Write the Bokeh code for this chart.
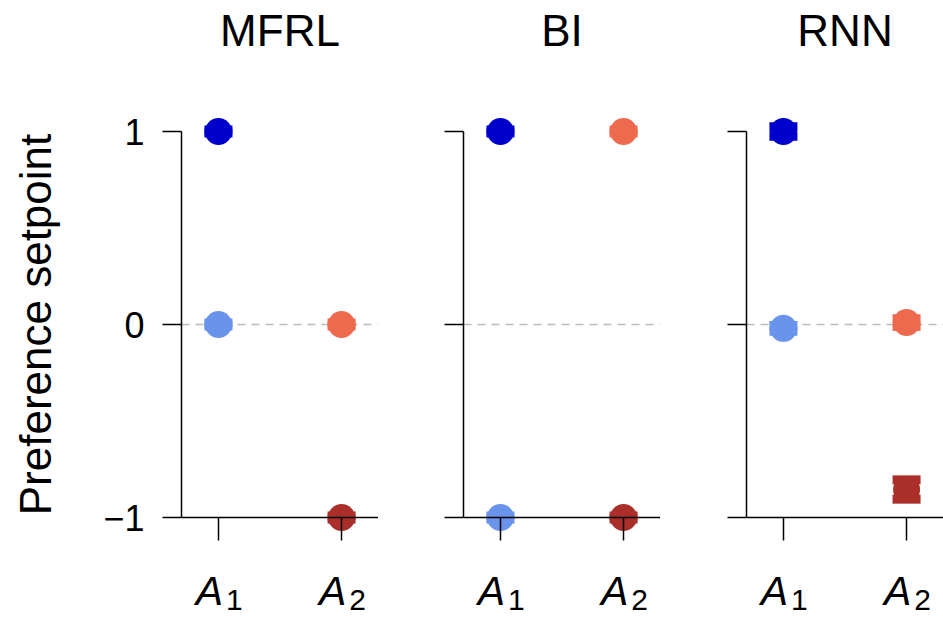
import numpy as np
from bokeh.plotting import figure
from bokeh.layouts import row
from bokeh.models import Range1d, FixedTicker, LinearAxis, Span
from bokeh.embed import file_html
from bokeh.resources import INLINE

# ---------------- data ----------------
models = ["MFRL", "BI", "RNN"]
actions = ["A", "A"]
action_subscripts = ["1", "2"]
y_ticks = [-1, 0, 1]
y_tick_labels = ["\u22121", "0", "1"]
y_label = "Preference setpoint"

# four conditions per model: (action index, colour)
cond_action = [0, 0, 1, 1]
cond_colors = ["#0000CD", "#6A93EC", "#EE6A4E", "#AA2E2A"]

mfrl_mean = [1.0, 0.0, 0.0, -1.0]
mfrl_err = [0.008, 0.008, 0.008, 0.008]
bi_mean = [1.0, -1.0, 1.0, -1.0]
bi_err = [0.008, 0.008, 0.008, 0.008]
rnn_mean = [1.0, -0.02, 0.01, -0.855]
rnn_err = [0.025, 0.015, 0.02, 0.05]

means = [mfrl_mean, bi_mean, rnn_mean]
errs = [mfrl_err, bi_err, rnn_err]

FONT = "Liberation Sans"
TOP = 57                      # title panel height (text 51 + standoff 6)
X0, X1 = -0.30, 1.30
Y0, Y1 = -1.5544, 1.0 + (131 - TOP) / 193.0
FRAME_W, FRAME_H = 197, 624 - TOP
SHIFT_A = 9 / 123.0
SHIFT_SUB = 16 / 123.0
left_borders = [181, 85, 86]

figs = []
for i, name in enumerate(models):
    p = figure(width=left_borders[i] + FRAME_W, height=624,
               frame_width=FRAME_W, frame_height=FRAME_H,
               x_range=Range1d(X0, X1), y_range=Range1d(Y0, Y1),
               output_backend="svg", toolbar_location=None,
               min_border_left=left_borders[i], min_border_right=0,
               min_border_top=0, min_border_bottom=0,
               title=name)
    p.outline_line_color = None
    p.grid.visible = False
    p.background_fill_color = "white"
    p.border_fill_color = "white"

    p.title.text_font = FONT
    p.title.text_font_size = "44px"
    p.title.text_font_style = "normal"
    p.title.text_color = "black"
    p.title.align = "center"
    p.title.standoff = 6

    # zero reference line
    p.add_layout(Span(location=0, dimension="width", line_color="#BBBBBB",
                      line_width=1.6, line_dash="8 6", level="underlay"))

    xs = [cond_action[k] for k in range(4)]
    m = np.array(means[i])
    e = np.array(errs[i])
    p.segment(x0=xs, y0=m - e, x1=xs, y1=m + e, line_color=cond_colors, line_width=3)
    p.scatter(x=xs, y=m + e, marker="dash", size=28, line_width=9,
              line_color=cond_colors)
    p.scatter(x=xs, y=m - e, marker="dash", size=28, line_width=9,
              line_color=cond_colors)
    p.scatter(x=xs, y=m, marker="circle", size=27, fill_color=cond_colors,
              line_color=None)

    # y axis
    ya = p.yaxis[0]
    ya.ticker = FixedTicker(ticks=y_ticks)
    ya.bounds = (-1, 1)
    ya.axis_line_width = 1.5
    ya.major_tick_line_width = 1.5
    ya.major_tick_out = 19
    ya.major_tick_in = 0
    ya.minor_tick_line_color = None
    ya.major_label_overrides = {t: l for t, l in zip(y_ticks, y_tick_labels)}
    ya.major_label_text_font = FONT
    ya.major_label_text_font_size = "36px"
    ya.major_label_text_color = "black"
    ya.major_label_standoff = 18
    if i == 0:
        # y-axis title, drawn as the single label of a bare helper axis
        yl = LinearAxis()
        yl.ticker = FixedTicker(ticks=[0])
        yl.major_label_overrides = {0: y_label}
        yl.major_label_orientation = "parallel"
        yl.axis_line_color = None
        yl.major_tick_line_color = None
        yl.minor_tick_line_color = None
        yl.major_tick_out = 0
        yl.major_tick_in = 0
        yl.major_label_standoff = 40
        yl.major_label_text_font = FONT
        yl.major_label_text_font_size = "44px"
        yl.major_label_text_color = "black"
        p.add_layout(yl, "left")
    else:
        ya.major_label_text_font_size = "0px"
        ya.major_label_text_color = None

    # x axis (line + ticks) at y = -1
    xa = p.xaxis[0]
    xa.fixed_location = -1
    xa.ticker = FixedTicker(ticks=list(range(len(actions))))
    xa.bounds = (X0, X1)
    xa.axis_line_width = 1.5
    xa.major_tick_line_width = 1.5
    xa.major_tick_out = 23
    xa.major_tick_in = 0
    xa.minor_tick_line_color = None
    xa.major_label_text_font_size = "0px"
    xa.major_label_text_color = None

    # tick labels: italic "A" and subscript digit, on shifted helper ranges
    p.extra_x_ranges = {"a": Range1d(X0 + SHIFT_A, X1 + SHIFT_A),
                        "sub": Range1d(X0 - SHIFT_SUB, X1 - SHIFT_SUB)}
    for rname, labels, size, style, standoff in [
            ("a", actions, "41px", "italic", 50),
            ("sub", action_subscripts, "30px", "normal", 72)]:
        ax = LinearAxis(x_range_name=rname, fixed_location=-1)
        ax.ticker = FixedTicker(ticks=list(range(len(labels))))
        ax.major_label_overrides = {k: l for k, l in enumerate(labels)}
        ax.axis_line_color = None
        ax.major_tick_line_color = None
        ax.minor_tick_line_color = None
        ax.major_tick_out = 0
        ax.major_tick_in = 0
        ax.major_label_standoff = standoff
        ax.major_label_text_font = FONT
        ax.major_label_text_font_size = size
        ax.major_label_text_font_style = style
        ax.major_label_text_color = "black"
        p.add_layout(ax, "below")

    figs.append(p)

layout = row(*figs, spacing=0)
open("out.html", "w").write(file_html(layout, INLINE))
